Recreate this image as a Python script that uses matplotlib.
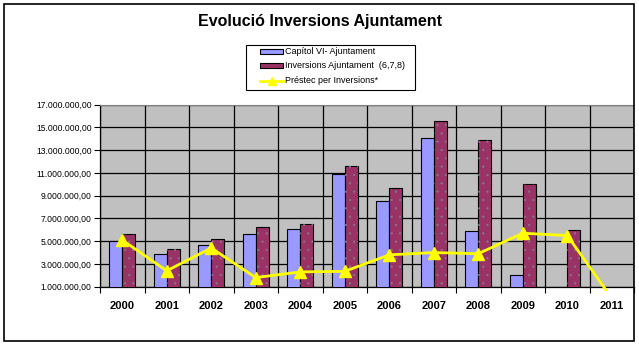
import numpy as np
import matplotlib.pyplot as plt
from matplotlib.patches import Rectangle
from matplotlib.lines import Line2D
from matplotlib.ticker import FuncFormatter, FixedLocator

plt.rcParams['font.family'] = ['Liberation Sans', 'DejaVu Sans']

years = ['2000', '2001', '2002', '2003', '2004', '2005',
         '2006', '2007', '2008', '2009', '2010', '2011']
# euros
capitol_vi = [5000000, 3900000, 4700000, 5600000, 6050000, 10900000,
              8500000, 14050000, 5900000, 2000000, 0, 0]
inversions = [5600000, 4300000, 5200000, 6250000, 6500000, 11600000,
              9650000, 15600000, 13900000, 10000000, 6000000, 0]
prestec = [5100000, 2400000, 4400000, 1800000, 2300000, 2350000,
           3800000, 4000000, 3900000, 5700000, 5500000, 0]
labels = ['Capítol VI- Ajuntament', 'Inversions Ajuntament  (6,7,8)',
          'Préstec per Inversions*']

W, H = 639, 346
fig = plt.figure(figsize=(W / 100, H / 100), dpi=100)

# plot area in pixels: x 100..634, y 104.7..286.7
ax = fig.add_axes([100 / W, (H - 286.7) / H, 534 / W, 182 / H])
ax.set_facecolor('#C0C0C0')

blue, maroon, yellow = '#9999FF', '#993366', '#FFFF00'

x = np.arange(len(years))
bw = 0.29
ax.bar(x - bw / 2, capitol_vi, bw, color=blue, edgecolor='black',
       linewidth=0.8, zorder=3)
ax.bar(x + bw / 2, inversions, bw, color=maroon, edgecolor='black',
       linewidth=0.8, zorder=3)
# speckled texture on the maroon bars
plt.rcParams['hatch.linewidth'] = 0.3
ax.bar(x + bw / 2, inversions, bw, color='none', edgecolor='#8c7a8c',
       linewidth=0, hatch='..', zorder=3.5)

line, = ax.plot(x, prestec, color=yellow, lw=2, marker='^', ms=8, zorder=4)
clip = Rectangle((0, -0.025), 1, 1.025, transform=ax.transAxes)
line.set_clip_path(clip)

ax.set_xlim(-0.5, len(years) - 0.5)
ax.set_ylim(1000000, 17000000)

ax.set_yticks(np.arange(1000000, 17000001, 2000000))
ax.yaxis.set_major_formatter(FuncFormatter(
    lambda v, p: '{:,.0f}'.format(v).replace(',', '.') + ',00'))
ax.tick_params(axis='y', labelsize=6.2, length=4, width=0.8, pad=2)

ax.xaxis.set_major_locator(FixedLocator(np.arange(-0.5, len(years), 1)))
ax.xaxis.set_minor_locator(FixedLocator(x))
ax.set_xticklabels([], minor=False)
ax.set_xticklabels(years, minor=True, fontsize=8, fontweight='bold')
ax.tick_params(axis='x', which='major', length=4, width=0.8)
ax.tick_params(axis='x', which='minor', length=0, pad=10)

ax.grid(True, which='major', color='black', lw=0.9, zorder=1)
ax.set_axisbelow(True)
for s in ['left', 'bottom']:
    ax.spines[s].set_color('black')
    ax.spines[s].set_linewidth(0.9)
ax.spines['top'].set_color('#808080')
ax.spines['right'].set_visible(False)

fig.text(320 / W, 1 - 21.5 / H, 'Evolució Inversions Ajuntament',
         ha='center', va='center', fontsize=11.5, fontweight='bold')


# legend box, laid out in figure pixels
def px(xp, yp):
    return xp / W, 1 - yp / H


tf = fig.transFigure
fig.patches.append(Rectangle(px(246, 89.7), 169 / W, 45 / H, transform=tf,
                             facecolor='white', edgecolor='black', lw=0.8))
rows = [51.3, 65.8, 80.7]
for yp, c in zip(rows[:2], [blue, maroon]):
    fig.patches.append(Rectangle(px(260, yp + 2.5), 23 / W, 5 / H,
                                 transform=tf, facecolor=c,
                                 edgecolor='black', lw=0.8))
fig.lines.append(Line2D([260 / W, 283 / W], [1 - rows[2] / H] * 2,
                        transform=tf, color=yellow, lw=2))
fig.lines.append(Line2D([271.5 / W], [1 - rows[2] / H], transform=tf,
                        color=yellow, marker='^', ms=6))
for yp, t in zip(rows, labels):
    fig.text(285 / W, 1 - yp / H, t, ha='left', va='center', fontsize=6.5)

# chart border
fig.patches.append(Rectangle(px(4, 341), 629.5 / W, 337 / H, transform=tf,
                             fill=False, edgecolor='black', lw=1.2))

fig.savefig('out.png', dpi=100)
